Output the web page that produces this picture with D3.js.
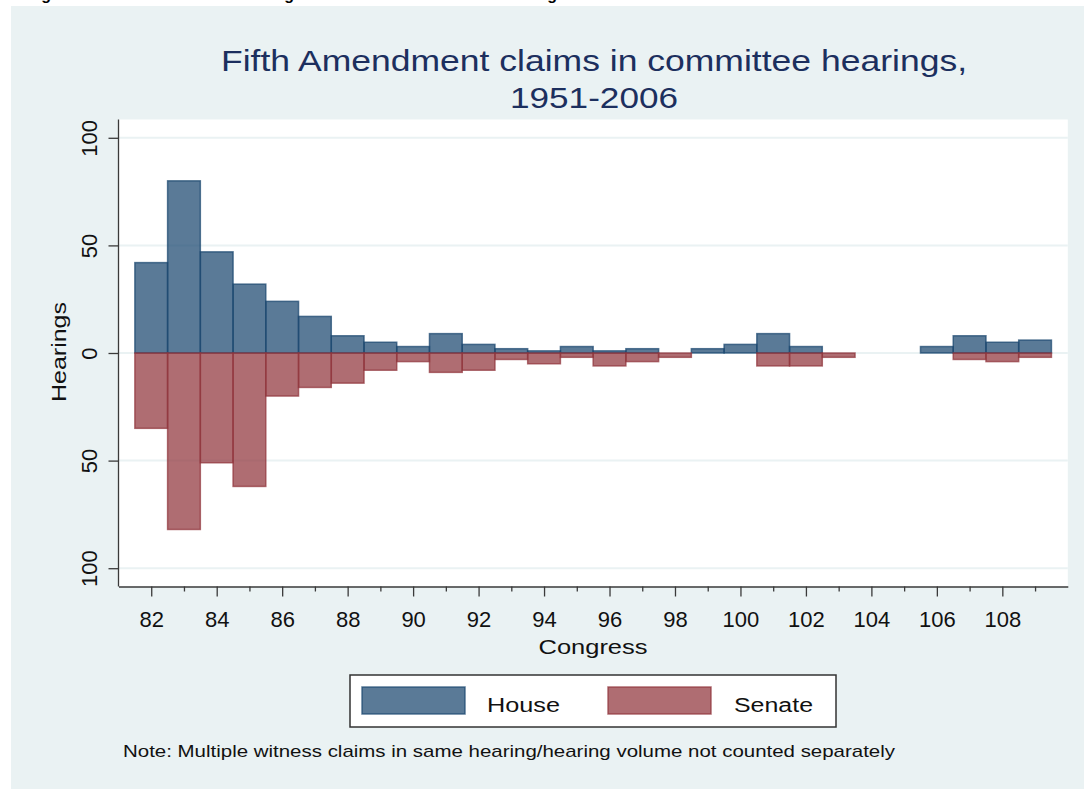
<!DOCTYPE html>
<html>
<head>
<meta charset="utf-8">
<script src="https://cdn.jsdelivr.net/npm/d3@7"></script>
<style>
  html, body { margin: 0; padding: 0; background: #ffffff; }
  svg { display: block; }
  text { font-family: "Liberation Sans", Arial, Helvetica, sans-serif; }
</style>
</head>
<body>
<svg id="chart" width="1084" height="789"></svg>
<script>
// ---- data ----
const congress = [82, 83, 84, 85, 86, 87, 88, 89, 90, 91, 92, 93, 94, 95, 96, 97, 98, 99, 100, 101, 102, 103, 104, 105, 106, 107, 108, 109];
const house    = [42, 80, 47, 32, 24, 17,  8,  5,  3,  9,  4,  2,  1,  3,  1,  2,  0,  2,   4,   9,   3,   0,   0,   0,   3,   8,   5,   6];
const senate   = [35, 82, 51, 62, 20, 16, 14,  8,  4,  9,  8,  3,  5,  2,  6,  4,  2,  0,   0,   6,   6,   2,   0,   0,   0,   3,   4,   2];
const xMajorTicks = [82, 84, 86, 88, 90, 92, 94, 96, 98, 100, 102, 104, 106, 108];
const xMinorTicks = [83, 85, 87, 89, 91, 93, 95, 97, 99, 101, 103, 105, 107, 109];
const yTicks = [-100, -50, 0, 50, 100];
const seriesNames = ["House", "Senate"];
const titleLines = ["Fifth Amendment claims in committee hearings,", "1951-2006"];
const xTitle = "Congress";
const yTitle = "Hearings";
const note = "Note: Multiple witness claims in same hearing/hearing volume not counted separately";
const headerText = "Figure 1: Fifth Amendment Hearings in the House and Senate in Congress";

// ---- styles ----
const panelBg = "rgb(234,242,243)";
const houseCol = "rgba(26,71,111,0.72)";
const senateCol = "rgba(144,53,59,0.72)";
const axisCol = "#3a3a3a";

const svg = d3.select("#chart");

// header text of the page, cut off by the top edge (only descenders visible)
svg.append("text").attr("x", 27).attr("y", -0.5)
  .attr("font-family", "'Liberation Serif', 'Times New Roman', serif")
  .attr("font-weight", "bold").attr("font-size", 16)
  .attr("fill", "#000").text(headerText);

// graph region
svg.append("rect").attr("x", 11).attr("y", 6).attr("width", 1084 - 11).attr("height", 789 - 6)
  .attr("fill", panelBg);

const L = 118.5, R = 1067.8, T = 119.5, B = 586.5;
svg.append("rect").attr("x", L).attr("y", T).attr("width", R - L).attr("height", B - T).attr("fill", "#fff");

const x = d3.scaleLinear().domain([81, 110]).range([L, R]);
const y = d3.scaleLinear().domain([-108.5, 108.5]).range([B, T]);

// gridlines
svg.append("g").selectAll("line").data(yTicks).join("line")
  .attr("x1", L).attr("x2", R)
  .attr("y1", d => y(d)).attr("y2", d => y(d))
  .attr("stroke", panelBg).attr("stroke-width", 2);

// bars
const rows = congress.map((c, i) => ({ c, h: house[i], s: senate[i] }));
const barG = svg.append("g");
barG.selectAll("rect.h").data(rows.filter(d => d.h > 0)).join("rect")
  .attr("class", "h")
  .attr("x", d => x(d.c - 0.5)).attr("width", d => x(d.c + 0.5) - x(d.c - 0.5))
  .attr("y", d => y(d.h)).attr("height", d => y(0) - y(d.h))
  .attr("fill", houseCol).attr("stroke", houseCol).attr("stroke-width", 1.5);
barG.selectAll("rect.s").data(rows.filter(d => d.s > 0)).join("rect")
  .attr("class", "s")
  .attr("x", d => x(d.c - 0.5)).attr("width", d => x(d.c + 0.5) - x(d.c - 0.5))
  .attr("y", y(0)).attr("height", d => y(-d.s) - y(0))
  .attr("fill", senateCol).attr("stroke", senateCol).attr("stroke-width", 1.5);

// x axis
const xAxis = svg.append("g").attr("transform", `translate(0,${B})`)
  .call(d3.axisBottom(x).tickValues(xMajorTicks).tickSize(10).tickSizeOuter(0).tickPadding(4).tickFormat(d3.format("d")));
const xMinor = svg.append("g").attr("transform", `translate(0,${B})`)
  .call(d3.axisBottom(x).tickValues(xMinorTicks).tickSize(5).tickSizeOuter(0).tickFormat(""));
xMinor.select(".domain").remove();
[xAxis, xMinor].forEach(g => {
  g.selectAll("path, line").attr("stroke", axisCol).attr("stroke-width", 1.3);
});
xAxis.selectAll("text").attr("font-size", 22).attr("fill", "#111")
  .attr("font-family", "'Liberation Sans', Arial, sans-serif")
  .attr("dy", null).attr("y", 40);

// y axis
const yAxis = svg.append("g").attr("transform", `translate(${L},0)`)
  .call(d3.axisLeft(y).tickValues(yTicks).tickSize(10).tickSizeOuter(0).tickFormat(d => String(Math.abs(d))));
yAxis.select(".domain").attr("d", `M0,${T}V${B}`);
yAxis.selectAll("path, line").attr("stroke", axisCol).attr("stroke-width", 1.3);
yAxis.selectAll(".tick text")
  .attr("font-size", 22).attr("fill", "#111")
  .attr("font-family", "'Liberation Sans', Arial, sans-serif")
  .attr("x", null).attr("dy", null)
  .attr("text-anchor", "middle")
  .attr("transform", `translate(${97 - L},0) rotate(-90)`);

// titles
const title = svg.append("g").attr("fill", "rgb(28,47,94)");
title.append("text").attr("x", 594).attr("y", 71).attr("text-anchor", "middle")
  .attr("font-size", 30).attr("textLength", 746).attr("lengthAdjust", "spacingAndGlyphs").text(titleLines[0]);
title.append("text").attr("x", 594).attr("y", 108).attr("text-anchor", "middle")
  .attr("font-size", 29).attr("textLength", 168).attr("lengthAdjust", "spacingAndGlyphs").text(titleLines[1]);

svg.append("text").attr("x", 593).attr("y", 654).attr("text-anchor", "middle")
  .attr("font-size", 21).attr("fill", "#111")
  .attr("textLength", 109).attr("lengthAdjust", "spacingAndGlyphs").text(xTitle);

svg.append("text").attr("transform", "translate(66,352) rotate(-90)").attr("text-anchor", "middle")
  .attr("font-size", 21).attr("fill", "#111")
  .attr("textLength", 100).attr("lengthAdjust", "spacingAndGlyphs").text(yTitle);

// legend
const lg = svg.append("g");
lg.append("rect").attr("x", 350).attr("y", 675).attr("width", 486).attr("height", 52)
  .attr("fill", "#fff").attr("stroke", "#333").attr("stroke-width", 1.5);
const legendItems = [
  { name: seriesNames[0], col: houseCol, sx: 362, tx: 487, tw: 73 },
  { name: seriesNames[1], col: senateCol, sx: 608, tx: 734, tw: 79 }
];
legendItems.forEach(it => {
  lg.append("rect").attr("x", it.sx).attr("y", 687).attr("width", 103).attr("height", 27)
    .attr("fill", it.col).attr("stroke", it.col).attr("stroke-width", 1.5);
  lg.append("text").attr("x", it.tx).attr("y", 712).attr("font-size", 20).attr("fill", "#111")
    .attr("textLength", it.tw).attr("lengthAdjust", "spacingAndGlyphs").text(it.name);
});

// note
svg.append("text").attr("x", 123).attr("y", 757).attr("font-size", 17).attr("fill", "#111")
  .attr("textLength", 772).attr("lengthAdjust", "spacingAndGlyphs").text(note);
</script>
</body>
</html>
